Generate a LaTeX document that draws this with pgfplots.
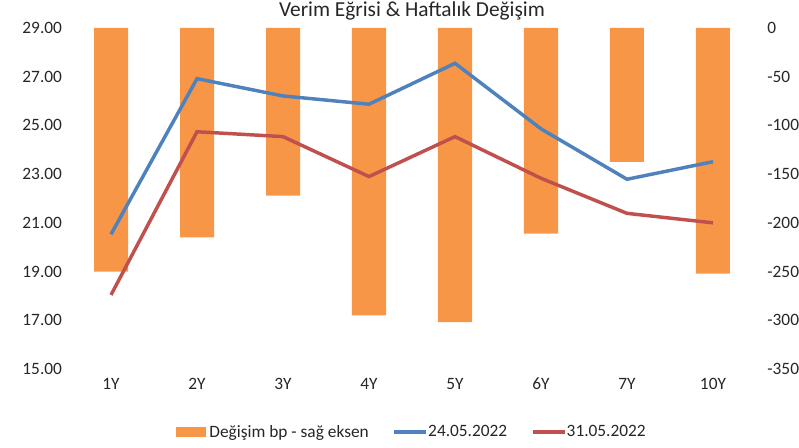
\documentclass[border=0pt]{standalone}
\usepackage{pgfplots}
\pgfplotsset{compat=1.18}
\usepackage{fontspec}
\setmainfont{Carlito}
\definecolor{barorange}{HTML}{F79646}
\definecolor{lblue}{HTML}{4F81BD}
\definecolor{lred}{HTML}{C0504D}
\definecolor{txt}{HTML}{262626}
\pgfplotsset{linelegend/.style={legend image code/.code={\draw[##1] (0pt,0pt) -- (24pt,0pt);}}}
\begin{document}
\begin{tikzpicture}
\path[use as bounding box] (0,0) rectangle (599.25pt,336pt);
\pgfplotsset{
  base/.style={
    at={(51pt,59.25pt)}, anchor=south west,
    scale only axis, width=516pt, height=255.75pt,
    xmin=-0.5, xmax=7.5,
    axis line style={draw=none},
    tick style={draw=none},
    /pgf/number format/assume math mode=true,
    ticklabel style={font=\fontsize{13}{15}\selectfont, text=txt},
  }
}
\begin{axis}[base,
  axis x line=none,
  axis y line*=right,
  ymin=-350, ymax=0,
  ytick={-350,-300,...,0},
  yticklabel style={/pgf/number format/fixed, /pgf/number format/precision=0},
  yticklabel style={anchor=west, xshift=5pt},
  ybar, bar width=25.5pt,
]
\addplot[fill=barorange, draw=none] coordinates {
(0,-250) (1,-215) (2,-172) (3,-295) (4,-302) (5,-211) (6,-137.5) (7,-252)
};
\end{axis}
\begin{axis}[base,
  axis y line*=left,
  ymin=15, ymax=29,
  ytick={15,17,...,29},
  yticklabel style={/pgf/number format/fixed, /pgf/number format/fixed zerofill, /pgf/number format/precision=2, anchor=east, xshift=-1pt},
  xtick={0,...,7},
  xticklabels={1Y,2Y,3Y,4Y,5Y,6Y,7Y,10Y},
  xticklabel style={anchor=center, yshift=-11pt},
  title={Verim Eğrisi \& Haftalık Değişim},
  title style={font=\fontsize{16}{18}\selectfont, text=txt, anchor=center, at={(0.5,1)}, yshift=7pt},
  legend columns=3,
  legend style={draw=none, fill=none, at={(0.5,-0.185)}, anchor=center,
    font=\fontsize{13}{15}\selectfont, text=txt,
    /tikz/every even column/.append style={column sep=16pt},
    /tikz/every odd column/.append style={column sep=-2pt}},
]
\addlegendimage{legend image code/.code={\fill[barorange] (0pt,-3.5pt) rectangle (22pt,3.5pt); \path (25pt,0pt);}}
\addlegendentry{Değişim bp - sağ eksen}
\addplot[lblue, line width=2.6pt, linelegend] coordinates {
(0,20.53) (1,26.92) (2,26.21) (3,25.87) (4,27.55) (5,24.86) (6,22.79) (7,23.51)
};
\addlegendentry{24.05.2022}
\addplot[lred, line width=2.6pt, linelegend] coordinates {
(0,18.04) (1,24.74) (2,24.54) (3,22.90) (4,24.54) (5,22.83) (6,21.39) (7,21.00)
};
\addlegendentry{31.05.2022}
\end{axis}
\end{tikzpicture}
\end{document}
